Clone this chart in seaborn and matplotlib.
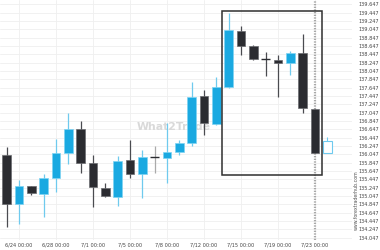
import matplotlib
matplotlib.use("Agg")
import matplotlib.pyplot as plt
from matplotlib.patches import Rectangle
import seaborn as sns
import numpy as np

# ---- data ----
opens  = [136.031, 134.856, 135.287, 135.095, 135.472, 136.086, 136.654, 135.832, 135.247,
          135.031, 135.911, 135.575, 135.976, 135.952, 136.110, 136.326, 137.446, 136.774,
          137.654, 139.012, 138.652, 138.336, 138.309, 138.244, 138.470, 137.134, 136.071]
highs  = [136.230, 135.431, 135.287, 135.575, 136.407, 137.045, 136.846, 136.031, 135.366,
          136.007, 136.390, 136.151, 136.247, 136.805, 136.390, 137.788, 137.589, 137.894,
          139.429, 139.124, 138.660, 138.508, 138.429, 138.532, 138.925, 137.134, 136.470]
lows   = [134.297, 134.376, 135.071, 134.551, 135.151, 135.815, 135.592, 134.784, 135.016,
          134.808, 135.472, 134.992, 135.592, 135.352, 136.031, 136.254, 136.510, 136.762,
          137.630, 138.429, 138.309, 137.925, 137.414, 137.942, 137.045, 136.071, 136.071]
closes = [134.856, 135.287, 135.112, 135.472, 136.086, 136.654, 135.846, 135.256, 135.047,
          135.894, 135.575, 135.976, 135.976, 136.110, 136.326, 137.414, 136.791, 137.654,
          139.028, 138.652, 138.333, 138.318, 138.244, 138.470, 137.151, 136.071, 136.374]

date_labels = ["6/24 00:00", "6/28 00:00", "7/1 00:00", "7/5 00:00", "7/8 00:00",
               "7/12 00:00", "7/15 00:00", "7/19 00:00", "7/23 00:00"]
date_label_idx = [1, 4, 7, 10, 13, 16, 19, 22, 25]

ytick_labels = ["134.047", "134.247", "134.447", "134.647", "134.847", "135.047", "135.247",
                "135.447", "135.647", "135.847", "136.047", "136.247", "136.447", "136.647",
                "136.847", "137.047", "137.247", "137.447", "137.647", "137.847", "138.047",
                "138.247", "138.447", "138.647", "138.847", "139.047", "139.247", "139.447",
                "139.647"]

# pattern box (index range and price range)
box_x = [17.49, 25.6]
box_y = [135.551, 139.484]
current_idx = 25

# ---- style ----
sns.set_style("white")
plt.rcParams['font.family'] = ['DejaVu Sans']

BLUE = "#1aa9e1"
BLUE_WICK = "#6fcaee"
DARK = "#2b2c31"
DARK_WICK = "#4a4b50"

fig = plt.figure(figsize=(3.8, 2.5), dpi=100)
ax = fig.add_axes([0.0, 10 / 250, 352 / 380, 240 / 250])

x = np.arange(len(opens))
ytick_vals = [float(v) for v in ytick_labels]

# grid
for v in ytick_vals:
    ax.axhline(v, color="#efefef", lw=0.6, zorder=0)
for i in date_label_idx:
    ax.axvline(i, color="#efefef", lw=0.6, zorder=0)

w = 0.68
for i in x:
    o, h, l, c = opens[i], highs[i], lows[i], closes[i]
    last = (i == len(opens) - 1)
    if last:
        ax.vlines(i, l, h, color=BLUE_WICK, lw=0.8, zorder=2)
        ax.bar(i, abs(c - o), bottom=min(o, c), width=w, color="white",
               edgecolor=BLUE_WICK, linewidth=0.8, zorder=3)
    elif abs(c - o) < 0.02:
        ax.vlines(i, l, h, color="#aaaaaa" if i == 12 else DARK_WICK, lw=0.9, zorder=2)
        ax.hlines(o, i - w / 2, i + w / 2, color=DARK, lw=1.0, zorder=3)
    elif c > o:
        ax.vlines(i, l, h, color=BLUE_WICK, lw=0.9, zorder=2)
        ax.bar(i, c - o, bottom=o, width=w, color=BLUE, edgecolor="#7fd3f2",
               linewidth=0.5, zorder=3)
    else:
        ax.vlines(i, l, h, color=DARK_WICK, lw=0.9, zorder=2)
        ax.bar(i, o - c, bottom=c, width=w, color=DARK, edgecolor="#6a6b70",
               linewidth=0.5, zorder=3)

# current time dotted line
ax.axvline(current_idx, color="#a8a8a8", lw=1.6, ls=(0, (0.6, 0.6)), zorder=1)

# pattern rectangle
ax.add_patch(Rectangle((box_x[0], box_y[0]), box_x[1] - box_x[0], box_y[1] - box_y[0],
                       fill=False, edgecolor="#2f2f2f", lw=1.1, zorder=4))

# watermark
ax.text(13.55, 136.70, "What2Trade", fontsize=7.8, fontweight="bold", color="#d9d9d9",
        ha="center", va="center", zorder=1)

ax.set_xlim(-0.54, 28.0)
ax.set_ylim(133.992, 139.748)

ax.set_xticks(date_label_idx)
ax.set_xticklabels(date_labels)
ax.set_yticks(ytick_vals)
ax.set_yticklabels(ytick_labels)
ax.yaxis.tick_right()
ax.tick_params(axis="both", length=0, labelsize=3.6, colors="#444444")
ax.tick_params(axis="y", pad=5)
ax.tick_params(axis="x", pad=2)
for s in ax.spines.values():
    s.set_visible(False)

fig.text(356 / 380, 1 - 200 / 250, "www.forextraderhub.com", rotation=90, fontsize=3.4,
         color="#555555", ha="center", va="center")

fig.savefig("out.png", dpi=100)
